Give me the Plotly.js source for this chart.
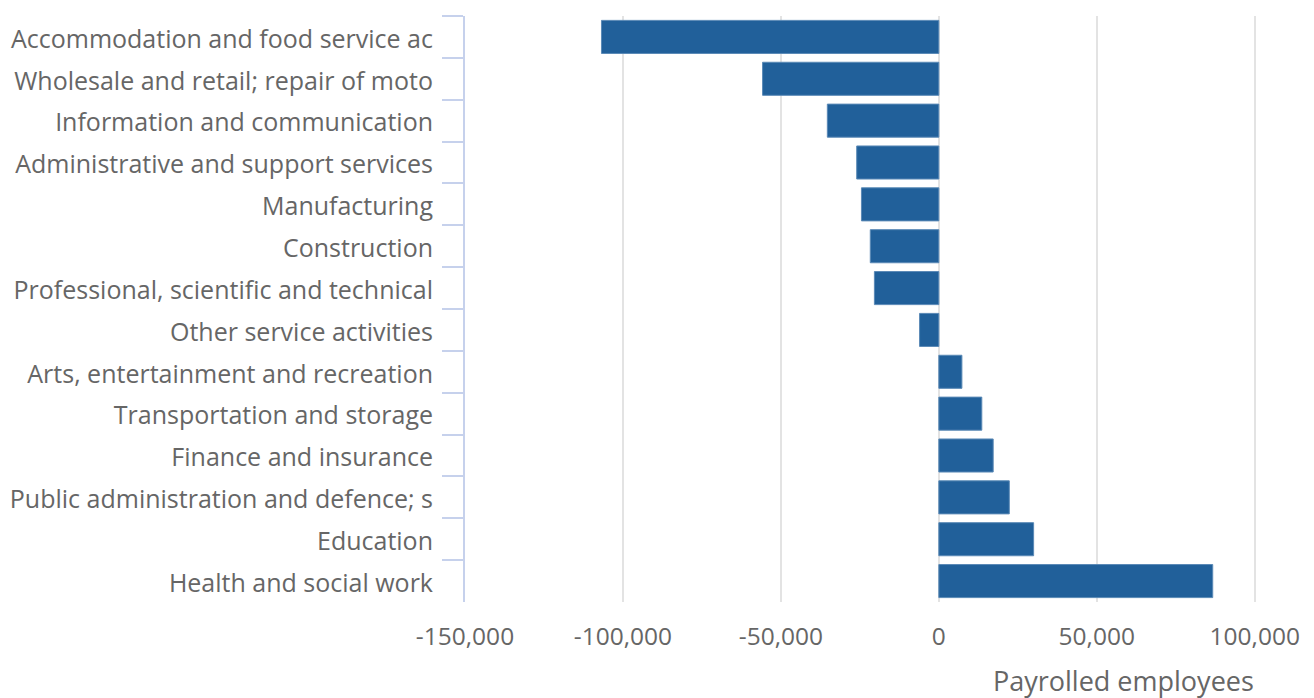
<!DOCTYPE html>
<html>
<head>
<meta charset="utf-8">
<script src="https://cdn.plot.ly/plotly-3.0.1.min.js"></script>
<style>html,body{margin:0;padding:0;background:#fff;}#chart{width:1314px;height:698px;}</style>
</head>
<body>
<div id="chart"></div>
<script>
const categories = [
  "Accommodation and food service ac",
  "Wholesale and retail; repair of moto",
  "Information and communication",
  "Administrative and support services",
  "Manufacturing",
  "Construction",
  "Professional, scientific and technical",
  "Other service activities",
  "Arts, entertainment and recreation",
  "Transportation and storage",
  "Finance and insurance",
  "Public administration and defence; s",
  "Education",
  "Health and social work"
];
const values = [-106800, -55800, -35300, -26000, -24500, -21700, -20400, -6100, 7300, 13600, 17200, 22300, 30000, 86700];
const xTickValues = [-150000, -100000, -50000, 0, 50000, 100000];
const xTickLabels = ["-150,000", "-100,000", "-50,000", "0", "50,000", "100,000"];
const xTitle = "Payrolled employees";

const fontFamily = '"Open Sans", sans-serif';
const textColor = '#666666';

Plotly.newPlot('chart', [{
  type: 'bar',
  orientation: 'h',
  y: categories,
  x: values,
  marker: {color: '#21609a', line: {color: '#5a89b6', width: 1}},
  width: 0.79,
  hoverinfo: 'x+y'
}], {
  width: 1314,
  height: 698,
  margin: {l: 465, r: 58, t: 16, b: 96},
  paper_bgcolor: '#ffffff',
  plot_bgcolor: '#ffffff',
  showlegend: false,
  font: {family: fontFamily, size: 25, color: textColor},
  xaxis: {
    range: [-150000, 100400],
    tickvals: xTickValues,
    ticktext: xTickLabels,
    showgrid: true,
    gridcolor: '#e3e3e3',
    gridwidth: 2,
    zeroline: false,
    showline: false,
    ticks: '',
    ticklabelstandoff: 17,
    tickfont: {family: fontFamily, size: 24.5, color: textColor},
    fixedrange: true
  },
  yaxis: {
    type: 'category',
    autorange: 'reversed',
    showgrid: false,
    zeroline: false,
    showline: true,
    linecolor: '#c6d1ec',
    linewidth: 2,
    ticks: 'outside',
    tickson: 'boundaries',
    ticklen: 21,
    tickwidth: 2,
    tickcolor: '#c6d1ec',
    ticklabelstandoff: 25,
    ticklabelshift: -2,
    tickfont: {family: fontFamily, size: 25, color: textColor},
    fixedrange: true
  },
  annotations: [{
    text: xTitle,
    xref: 'paper', yref: 'paper',
    x: 1, y: 0,
    xanchor: 'right', yanchor: 'middle',
    yshift: -78,
    showarrow: false,
    font: {family: fontFamily, size: 27, color: textColor}
  }]
}, {displayModeBar: false, staticPlot: false});
</script>
</body>
</html>
